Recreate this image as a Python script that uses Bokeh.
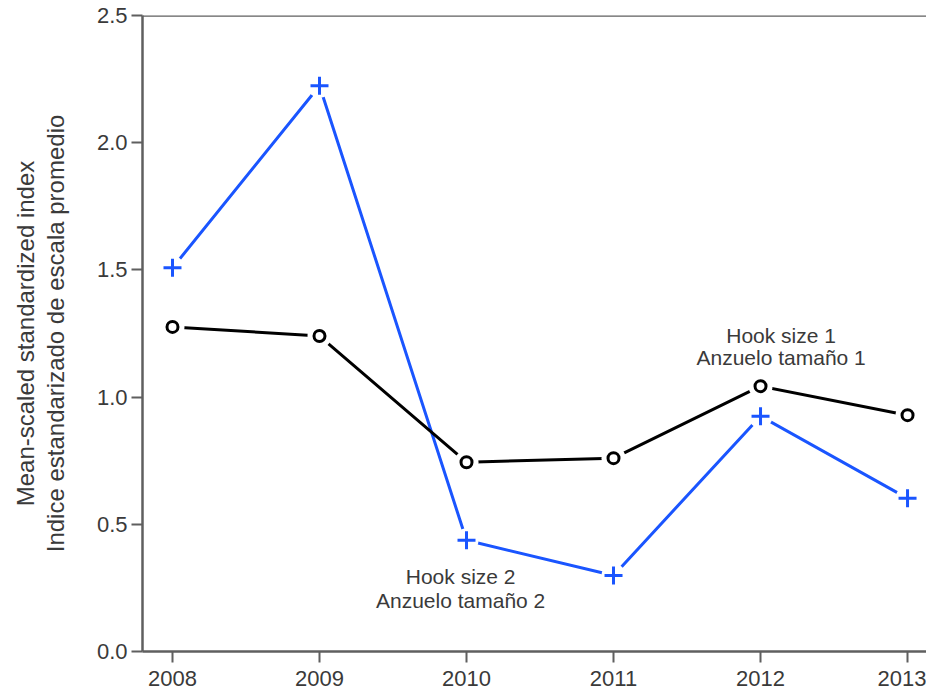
from bokeh.plotting import figure
from bokeh.models import FixedTicker, Range1d, Span, Label, ColumnDataSource
from bokeh.embed import file_html
from bokeh.resources import INLINE

years = [2008, 2009, 2010, 2011, 2012, 2013]
hook1 = [1.276, 1.240, 0.744, 0.760, 1.043, 0.929]
hook2 = [1.508, 2.224, 0.437, 0.299, 0.925, 0.602]
y_ticks = [0.0, 0.5, 1.0, 1.5, 2.0, 2.5]
y_label = "Mean-scaled standardized index\nIndice estandarizado de escala promedio"
label1 = ["Hook size 1", "Anzuelo tamaño 1"]
label2 = ["Hook size 2", "Anzuelo tamaño 2"]

FONT = "Liberation Sans"
AXC = "#5f5f5f"
TXC = "#3a3a3a"
BLUE = "#1a55ff"

p = figure(width=926, height=695, output_backend="svg", toolbar_location=None,
           x_range=Range1d(2007.796, 2013.129), y_range=Range1d(0, 2.5),
           min_border_left=142, min_border_right=0, min_border_top=15, min_border_bottom=44)
p.outline_line_color = None
p.grid.visible = False
p.background_fill_color = "white"
p.border_fill_color = "white"

for ax in (p.xaxis[0], p.yaxis[0]):
    ax.axis_line_color = AXC
    ax.axis_line_width = 2.5
    ax.major_tick_line_color = AXC
    ax.major_tick_line_width = 2
    ax.major_tick_in = 0
    ax.major_tick_out = 11
    ax.minor_tick_line_color = None
    ax.major_label_text_font = FONT
    ax.major_label_text_font_size = "22px"
    ax.major_label_text_color = TXC

p.xaxis.ticker = FixedTicker(ticks=years)
p.xaxis.major_label_standoff = 8
p.yaxis.ticker = FixedTicker(ticks=y_ticks)
p.yaxis.major_label_overrides = {t: f"{t:.1f}" for t in y_ticks}
p.yaxis.major_label_standoff = 4
p.yaxis.axis_label = y_label
p.yaxis.axis_label_text_font = FONT
p.yaxis.axis_label_text_font_size = "24px"
p.yaxis.axis_label_text_font_style = "normal"
p.yaxis.axis_label_text_color = TXC
p.yaxis.axis_label_text_line_height = 1.1
p.yaxis.axis_label_standoff = 25

top = Span(location=2.5, dimension="width", line_color=AXC, line_width=2.5)
p.add_layout(top)

src = ColumnDataSource(dict(x=years, h1=hook1, h2=hook2))

p.line("x", "h2", source=src, line_color=BLUE, line_width=3)
p.line("x", "h1", source=src, line_color="black", line_width=3)

# white halos create the gaps around the markers
p.scatter("x", "h1", source=src, marker="circle", size=24, fill_color="white", line_color=None)
p.scatter("x", "h2", source=src, marker="circle", size=24, fill_color="white", line_color=None)

p.scatter("x", "h1", source=src, marker="circle", size=11, fill_color="white",
          line_color="black", line_width=3)
p.scatter("x", "h2", source=src, marker="cross", size=18, line_color=BLUE, line_width=3)

for txt, (x, y) in zip(label1, [(2012.14, 1.244), (2012.14, 1.157)]):
    p.add_layout(Label(x=x, y=y, text=txt, text_align="center", text_baseline="middle",
                       text_font=FONT, text_font_size="21px", text_color=TXC))
for txt, (x, y) in zip(label2, [(2009.96, 0.295), (2009.96, 0.200)]):
    p.add_layout(Label(x=x, y=y, text=txt, text_align="center", text_baseline="middle",
                       text_font=FONT, text_font_size="21px", text_color=TXC))

open("out.html", "w").write(file_html(p, INLINE))
